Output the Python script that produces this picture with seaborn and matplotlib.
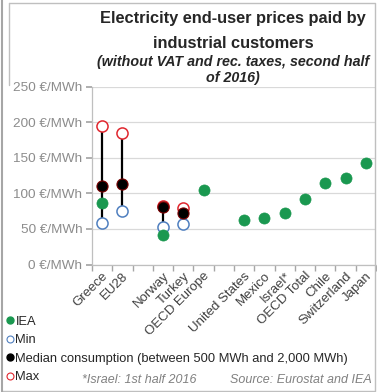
import numpy as np
import pandas as pd
import seaborn as sns
import matplotlib.pyplot as plt
from matplotlib.lines import Line2D

# categorias (cadena vacia = hueco entre grupos)
categorias = ["Greece", "EU28", "", "Norway", "Turkey", "OECD Europe", "",
              "United States", "Mexico", "Israel*", "OECD Total", "Chile",
              "Switzerland", "Japan"]
nan = np.nan
iea = [86, nan, nan, 41, nan, 105, nan, 62, 66, 73, 92, 114, 121, 143]
minimo = [58, 75, nan, 52, 57, nan, nan, nan, nan, nan, nan, nan, nan, nan]
mediana = [110, 113, nan, 81, 73, nan, nan, nan, nan, nan, nan, nan, nan, nan]
maximo = [195, 184, nan, 82, 79, nan, nan, nan, nan, nan, nan, nan, nan, nan]
yticks = [0, 50, 100, 150, 200, 250]

df = pd.DataFrame({"cat": categorias, "pos": range(len(categorias)),
                   "IEA": iea, "Min": minimo, "Median": mediana, "Max": maximo})

sns.set_theme(style="white")
plt.rcParams["font.family"] = ["Liberation Sans", "DejaVu Sans"]

fig = plt.figure(figsize=(3.77, 3.92), dpi=100)
ax = fig.add_axes([92 / 377, 1 - 264.5 / 392, 284 / 377, (264.5 - 86.5) / 392])

verde = "#1a9850"
azul = "#4f7fbf"
rojo = "#e0262e"

# barras min-max
rango = df.dropna(subset=["Min", "Max"])
ax.vlines(rango["pos"], rango["Min"], rango["Max"], color="black", lw=1.6, zorder=2)

ms = 64
sns.scatterplot(data=df, x="pos", y="Min", ax=ax, s=ms, marker="o",
                facecolor="white", edgecolor=azul, linewidth=1.1, zorder=3)
sns.scatterplot(data=df, x="pos", y="Max", ax=ax, s=ms, marker="o",
                facecolor="white", edgecolor=rojo, linewidth=1.1, zorder=3)
sns.scatterplot(data=df, x="pos", y="Median", ax=ax, s=ms, marker="o",
                color="black", edgecolor="#7a0000", linewidth=0.8, zorder=4)
sns.scatterplot(data=df, x="pos", y="IEA", ax=ax, s=ms, marker="o",
                color=verde, edgecolor=verde, linewidth=0.5, zorder=4)

ax.set_xlim(-0.5, len(categorias) - 0.5)
ax.set_ylim(0, 250)
ax.set_yticks(yticks)
ax.set_yticklabels([f"{v} €/MWh" for v in yticks], color="#8c8c8c", fontsize=9.7)
ax.set_xticks(range(len(categorias)))
ax.set_xticklabels(categorias, rotation=45, ha="right", rotation_mode="anchor",
                   color="#404040", fontsize=9.5)
ax.set_xticks(np.arange(-0.5, len(categorias), 1), minor=True)
ax.tick_params(axis="x", which="major", length=0, pad=4)
ax.tick_params(axis="x", which="minor", length=4, color="#a6a6a6", direction="out", bottom=True)
ax.tick_params(axis="y", length=4, color="#a6a6a6", direction="out", left=True, pad=3)
ax.set_xlabel("")
ax.set_ylabel("")
ax.grid(axis="y", color="#d9d9d9", lw=0.9)
ax.set_axisbelow(True)
for lado in ["top", "right"]:
    ax.spines[lado].set_visible(False)
for lado in ["left", "bottom"]:
    ax.spines[lado].set_color("#bfbfbf")
    ax.spines[lado].set_linewidth(0.9)

# titulos
fig.text(0.618, 1 - 18 / 392, "Electricity end-user prices paid by", ha="center",
         va="center", fontsize=11.8, fontweight="bold")
fig.text(0.618, 1 - 43 / 392, "industrial customers", ha="center",
         va="center", fontsize=11.8, fontweight="bold")
fig.text(0.618, 1 - 62 / 392, "(without VAT and rec. taxes, second half", ha="center",
         va="center", fontsize=10.3, fontweight="bold", style="italic")
fig.text(0.618, 1 - 78 / 392, "of 2016)", ha="center",
         va="center", fontsize=10.3, fontweight="bold", style="italic")

# leyenda
manejadores = [
    Line2D([], [], ls="", marker="o", ms=5, color=verde),
    Line2D([], [], ls="", marker="o", ms=5, mfc="white", mec=azul, mew=0.8),
    Line2D([], [], ls="", marker="o", ms=5, color="black"),
    Line2D([], [], ls="", marker="o", ms=5, mfc="white", mec=rojo, mew=0.8),
]
etiquetas = ["IEA", "Min", "Median consumption (between 500 MWh and 2,000 MWh)", "Max"]
fig.legend(manejadores, etiquetas, loc="lower left", bbox_to_anchor=(-0.012, -0.004),
           frameon=False, fontsize=9.3, handlelength=0.6, handletextpad=0.15,
           labelspacing=0.5, borderpad=0.3, labelcolor="#262626")

fig.text(82 / 377, 1 - 380 / 392, "*Israel: 1st half 2016", ha="left", va="center",
         fontsize=9, style="italic", color="#808080")
fig.text(372 / 377, 1 - 380 / 392, "Source: Eurostat and IEA", ha="right", va="center",
         fontsize=9, style="italic", color="#808080")

# marco
gris = "#bfbfbf"
fig.add_artist(Line2D([9 / 377, 375 / 377, 375 / 377, 2 / 377], [1 - 3 / 392, 1 - 3 / 392, 1 / 392, 1 / 392],
                      transform=fig.transFigure, color=gris, lw=1))
fig.add_artist(Line2D([9 / 377, 9 / 377], [1 - 3 / 392, 1 - 85 / 392],
                      transform=fig.transFigure, color=gris, lw=1))
fig.add_artist(Line2D([2 / 377, 2 / 377], [0, 1], transform=fig.transFigure,
                      color="#a6a6a6", lw=1.5))

fig.savefig("out.png", dpi=100)
